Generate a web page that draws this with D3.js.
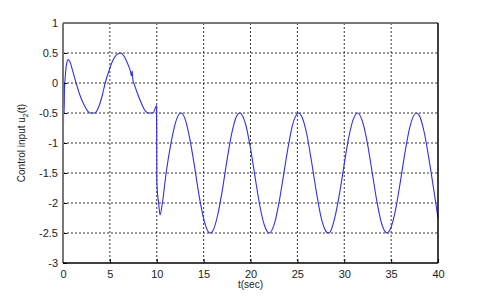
<!DOCTYPE html>
<html>
<head>
<meta charset="utf-8">
<script src="https://cdn.jsdelivr.net/npm/d3@7"></script>
<style>
  body { margin: 0; background: #fff; }
  text { font-family: "Liberation Sans", Arial, sans-serif; fill: #222; }
</style>
</head>
<body>
<div id="chart"></div>
<script>
// values (time in s, control input)
var tValues = [0, 0.03, 0.06, 0.09, 0.12, 0.16, 0.25, 0.4, 0.55, 0.75, 1.0, 1.4, 1.8, 2.2, 2.6, 2.9, 3.4, 3.8, 4.2, 4.5,
    4.9, 5.3, 5.7, 6.15, 6.5, 6.9, 7.2, 7.3, 7.38, 7.45, 7.6, 8.0, 8.4, 8.8, 9.1, 9.6, 9.98, 10.01, 10.04, 10.2, 10.35,
    10.6, 11, 11.5, 12, 12.57, 13, 13.5, 14, 14.5, 15, 15.5, 15.71, 16, 16.5, 17, 17.5, 18, 18.5, 18.85, 19.5, 20, 20.5,
    21, 21.5, 22, 22.5, 23, 23.5, 24, 24.5, 25.13, 25.5, 26, 26.5, 27, 27.5, 28, 28.27, 28.5, 29, 29.5, 30, 30.5, 31,
    31.42, 32, 32.5, 33, 33.5, 34, 34.56, 35, 35.5, 36, 36.5, 37, 37.7, 38, 38.5, 39, 39.5, 40];
var uValues = [-0.72, 0.05, -0.7, 0.0, -0.5, -0.1, 0.12, 0.33, 0.39, 0.35, 0.22, 0.0, -0.2, -0.35, -0.46, -0.5, -0.5, -0.4, -0.2, 0.0,
    0.2, 0.37, 0.47, 0.5, 0.45, 0.32, 0.19, 0.12, 0.2, 0.06, -0.02, -0.2, -0.35, -0.47, -0.5, -0.5, -0.38, -1.6, -1.75, -2.0, -2.2,
    -2.0, -1.5, -1.02, -0.66, -0.5, -0.59, -0.91, -1.36, -1.86, -2.26, -2.48, -2.5, -2.46, -2.2, -1.78, -1.28, -0.84, -0.56, -0.5, -0.7, -1.09, -1.58,
    -2.05, -2.38, -2.5, -2.37, -2.03, -1.56, -1.08, -0.69, -0.5, -0.57, -0.85, -1.3, -1.79, -2.22, -2.46, -2.5, -2.48, -2.24, -1.84, -1.35, -0.89, -0.59,
    -0.5, -0.67, -1.03, -1.51, -1.99, -2.35, -2.5, -2.4, -2.09, -1.63, -1.14, -0.73, -0.5, -0.54, -0.8, -1.23, -1.73, -2.25];

var xTicks = [0, 5, 10, 15, 20, 25, 30, 35, 40];
var yTicks = [1, 0.5, 0, -0.5, -1, -1.5, -2, -2.5, -3];

var W = 484, H = 296;
var margin = {top: 23, right: 46, bottom: 33, left: 63};
var width = W - margin.left - margin.right;
var height = H - margin.top - margin.bottom;

var svg = d3.select("#chart").append("svg")
    .attr("width", W)
    .attr("height", H);

var g = svg.append("g")
    .attr("transform", "translate(" + margin.left + "," + margin.top + ")");

var x = d3.scaleLinear().domain([0, 40]).range([0, width]);
var y = d3.scaleLinear().domain([-3, 1]).range([height, 0]);

// grid
g.selectAll(".vgrid")
    .data(xTicks.slice(1, -1))
    .enter().append("line")
    .attr("x1", function(d) { return x(d); })
    .attr("x2", function(d) { return x(d); })
    .attr("y1", 0)
    .attr("y2", height)
    .attr("stroke", "#333")
    .attr("stroke-dasharray", "2,2");

g.selectAll(".hgrid")
    .data(yTicks.slice(1, -1))
    .enter().append("line")
    .attr("x1", 0)
    .attr("x2", width)
    .attr("y1", function(d) { return y(d); })
    .attr("y2", function(d) { return y(d); })
    .attr("stroke", "#333")
    .attr("stroke-dasharray", "2,2");

// signal
var data = tValues.map(function(t, i) { return {t: t, u: uValues[i]}; });

var line = d3.line()
    .x(function(d) { return x(d.t); })
    .y(function(d) { return y(d.u); })
    .curve(d3.curveMonotoneX);

g.append("path")
    .datum(data)
    .attr("fill", "none")
    .attr("stroke", "#3030e6")
    .attr("stroke-width", 1.1)
    .attr("d", line);

// axes
var xAxis = d3.axisBottom(x).tickValues(xTicks).tickSize(-4).tickPadding(5).tickFormat(d3.format("d"));
var yAxis = d3.axisLeft(y).tickValues(yTicks).tickSize(-4).tickPadding(5).tickFormat(function(d) { return String(d); });

g.append("g")
    .attr("transform", "translate(0," + height + ")")
    .call(xAxis)
    .call(function(s) {
        s.select(".domain").remove();
        s.selectAll("text").attr("font-size", 11).attr("fill", "#222").attr("dy", "0.9em");
    });

g.append("g")
    .call(yAxis)
    .call(function(s) {
        s.select(".domain").remove();
        s.selectAll("text").attr("font-size", 11).attr("fill", "#222");
    });

// box
g.append("line").attr("x1", 0).attr("x2", width).attr("y1", 0).attr("y2", 0)
    .attr("stroke", "#777").attr("stroke-width", 2);
g.append("line").attr("x1", 0).attr("x2", 0).attr("y1", 0).attr("y2", height)
    .attr("stroke", "#777").attr("stroke-width", 2);
g.append("line").attr("x1", width).attr("x2", width).attr("y1", 0).attr("y2", height)
    .attr("stroke", "#000").attr("stroke-width", 1.5);
g.append("line").attr("x1", 0).attr("x2", width).attr("y1", height).attr("y2", height)
    .attr("stroke", "#000").attr("stroke-width", 1.5);

// labels
svg.append("text")
    .attr("x", margin.left + width / 2)
    .attr("y", 288)
    .attr("text-anchor", "middle")
    .attr("font-size", 10)
    .text("t(sec)");

var ylab = svg.append("text")
    .attr("transform", "translate(25," + (margin.top + height / 2) + ") rotate(-90)")
    .attr("text-anchor", "middle")
    .attr("font-size", 10);
ylab.append("tspan").text("Control input u");
ylab.append("tspan").attr("font-size", 7).attr("dy", 3).text("2");
ylab.append("tspan").attr("dy", -3).text("(t)");
</script>
</body>
</html>
